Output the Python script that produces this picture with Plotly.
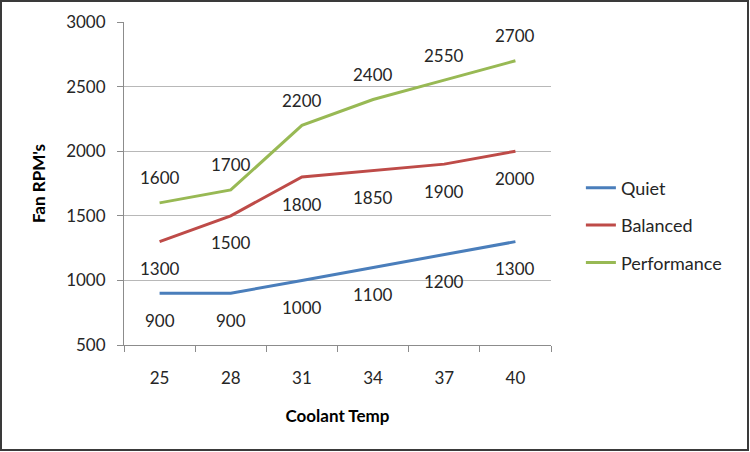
import plotly.graph_objects as go

temps = ["25", "28", "31", "34", "37", "40"]
quiet = [900, 900, 1000, 1100, 1200, 1300]
balanced = [1300, 1500, 1800, 1850, 1900, 2000]
performance = [1600, 1700, 2200, 2400, 2550, 2700]

# name, values, colour, label offset (px, negative = below the point)
series = [
    ("Quiet", quiet, "#4a7ebb", -27),
    ("Balanced", balanced, "#be4b48", -27),
    ("Performance", performance, "#98b954", 25),
]

FONT = "Lato, 'Open Sans', sans-serif"
TXT = "#262626"
AX = "#8c8c8c"
W, H = 750, 452
L, R, T, B = 124, 199, 22, 107
PW, PH = W - L - R, H - T - B

fig = go.Figure()
for name, vals, color, shift in series:
    fig.add_trace(go.Scatter(
        x=temps, y=vals, mode="lines", name=name, legendgroup=name,
        line=dict(color=color, width=3),
    ))
    # category axis: annotations take the category index
    for i, v in enumerate(vals):
        fig.add_annotation(
            x=i, y=v, text=str(v), showarrow=False, yshift=shift,
            font=dict(family=FONT, size=17, color=TXT),
        )

# outer frame of the picture
fig.add_shape(
    type="rect", xref="paper", yref="paper",
    x0=(1 - L) / PW, x1=(W - 2 - L) / PW,
    y0=-(H - 2 - (T + PH)) / PH, y1=(T + PH - 1) / PH,
    line=dict(color="#3a3a3a", width=2),
)

fig.update_xaxes(
    type="category", range=[-0.5, 5.5],
    showline=True, linecolor=AX, linewidth=1,
    ticks="outside", tickson="boundaries", ticklen=6, tickcolor=AX,
    ticklabelstandoff=18,
    showgrid=False,
    tickfont=dict(family=FONT, size=17, color=TXT),
    title=dict(text="<b>Coolant Temp</b>", standoff=22,
               font=dict(family=FONT, size=17, color="#000000")),
)
fig.update_yaxes(
    range=[500, 3000], dtick=500,
    showline=True, linecolor=AX, linewidth=1,
    ticks="outside", ticklen=6, tickcolor=AX,
    ticklabelstandoff=8,
    showgrid=True, gridcolor="#b8b8b8", gridwidth=1,
    zeroline=False,
    tickfont=dict(family=FONT, size=17, color=TXT),
    title=dict(text="<b>Fan RPM's</b>", standoff=16,
               font=dict(family=FONT, size=17, color="#000000")),
)
fig.update_layout(
    width=W, height=H,
    margin=dict(l=L, r=R, t=T, b=B),
    paper_bgcolor="white", plot_bgcolor="white",
    showlegend=True,
    legend=dict(
        x=1.07, y=0.37, xanchor="left", yanchor="middle",
        font=dict(family=FONT, size=18, color=TXT),
        tracegroupgap=11,
        bgcolor="rgba(0,0,0,0)",
    ),
)

fig.write_html(
    "out.html",
    config={"displayModeBar": False},
    post_script="document.body.style.margin='0';",
)
